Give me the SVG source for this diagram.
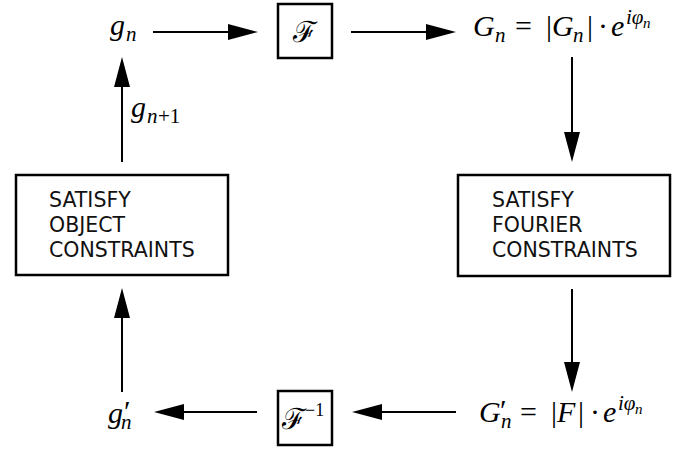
<svg xmlns="http://www.w3.org/2000/svg" width="686" height="451" viewBox="0 0 686 451">
<style>
.box{fill:none;stroke:#000;stroke-width:2.5}
.lbl{font-family:"DejaVu Sans",sans-serif;font-size:20.5px;fill:#111}
.m{font-family:"Liberation Serif","DejaVu Serif",serif;font-style:italic;font-size:30px;fill:#000}
.r{font-style:normal}
.s{font-size:21px}
.ss{font-size:15px}
.sup{font-size:18px}
.cal{font-family:"DejaVu Serif",serif;font-size:29px;font-style:normal}
.con{fill:none;stroke:#000;stroke-width:2}
</style>
<defs>
<marker id="ah" markerUnits="userSpaceOnUse" markerWidth="30" markerHeight="16" refX="15" refY="8" orient="auto">
<path d="M0,0 L30,8 L0,16 Z" fill="#000"/>
</marker>
</defs>
<rect width="686" height="451" fill="#fff"/>
<g id="connectors">
<path class="con" d="M153,32 H243" marker-end="url(#ah)"/>
<path class="con" d="M351,32 H441" marker-end="url(#ah)"/>
<path class="con" d="M572,57 V147" marker-end="url(#ah)"/>
<path class="con" d="M572,289 V377" marker-end="url(#ah)"/>
<path class="con" d="M456,412 H367" marker-end="url(#ah)"/>
<path class="con" d="M257,412 H169" marker-end="url(#ah)"/>
<path class="con" d="M122,392 V303" marker-end="url(#ah)"/>
<path class="con" d="M122,162 V72" marker-end="url(#ah)"/>
</g>
<g id="gn">
<text class="m" x="110" y="35">g<tspan class="s" x="126" y="41">n</tspan></text>
</g>
<g id="F">
<rect class="box" x="278" y="4" width="54" height="54" stroke-width="2"/>
<text class="m cal" x="305" y="42" text-anchor="middle">ℱ</text>
</g>
<g id="Gn">
<text class="m" x="473" y="36">G<tspan class="s" x="495" y="42">n</tspan><tspan class="r" x="515" y="36">=</tspan><tspan class="r" x="546">|</tspan><tspan x="552">G</tspan><tspan class="s" x="573" y="42">n</tspan><tspan class="r" x="587" y="36">|</tspan><tspan class="r" x="598">·</tspan><tspan x="611">e</tspan><tspan class="s" x="626" y="24">iφ</tspan><tspan class="ss" x="643" y="28">n</tspan></text>
</g>
<g id="fourier">
<rect class="box" x="458" y="175" width="212" height="101"/>
<text class="lbl" x="492" y="207">SATISFY</text>
<text class="lbl" x="492" y="232">FOURIER</text>
<text class="lbl" x="492" y="257">CONSTRAINTS</text>
</g>
<g id="Gnp">
<text class="m" x="479" y="422">G<tspan class="r" x="500" y="420">′</tspan><tspan class="s" x="501" y="428">n</tspan><tspan class="r" x="520" y="422">=</tspan><tspan class="r" x="551">|</tspan><tspan x="557">F</tspan><tspan class="r" x="578">|</tspan><tspan class="r" x="590">·</tspan><tspan x="603">e</tspan><tspan class="s" x="618" y="410">iφ</tspan><tspan class="ss" x="635" y="414">n</tspan></text>
</g>
<g id="Finv">
<rect class="box" x="278" y="391" width="54" height="54" stroke-width="2"/>
<text class="m cal" x="282" y="429">ℱ<tspan class="r sup" x="305" y="416" font-family="Liberation Serif">−1</tspan></text>
</g>
<g id="gnp">
<text class="m" x="108" y="423">g<tspan class="r" x="124" y="421">′</tspan><tspan class="s" x="121" y="429">n</tspan></text>
</g>
<g id="object">
<rect class="box" x="16" y="175" width="212" height="100"/>
<text class="lbl" x="49" y="207">SATISFY</text>
<text class="lbl" x="49" y="232">OBJECT</text>
<text class="lbl" x="49" y="257">CONSTRAINTS</text>
</g>
<g id="gn1">
<text class="m" x="131" y="117">g<tspan class="s" x="147" y="123">n</tspan><tspan class="r s" x="158">+1</tspan></text>
</g>
</svg>
